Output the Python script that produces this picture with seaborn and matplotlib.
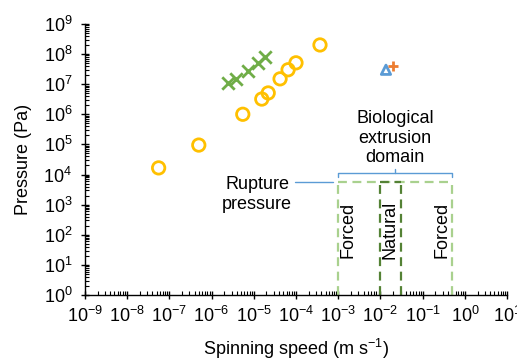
#!/usr/bin/env python3

import numpy as np
import matplotlib
matplotlib.use("Agg")
import matplotlib.pyplot as plt
import seaborn as sns
from matplotlib.ticker import LogLocator, NullFormatter

# --- data ---
circle_speed = [5.6e-8, 5.0e-7, 5.5e-6, 1.55e-5, 2.2e-5, 4.2e-5, 6.5e-5, 1.0e-4, 3.7e-4]
circle_pressure = [1.66e4, 9.5e4, 1.0e6, 3.2e6, 5.1e6, 1.5e7, 3.0e7, 5.1e7, 2.0e8]

cross_speed = [2.45e-6, 3.8e-6, 7.2e-6, 1.25e-5, 1.85e-5]
cross_pressure = [1.1e7, 1.5e7, 2.75e7, 5.1e7, 8.1e7]

tri_speed = [1.35e-2]
tri_pressure = [3.0e7]
plus_speed = [2.0e-2]
plus_pressure = [4.1e7]

forced_range = [1e-3, 0.5]
natural_range = [1e-2, 0.031]
rupture_pressure = 5.6e3

region_labels = ["Forced", "Natural", "Forced"]
region_label_x = [1.7e-3, 1.7e-2, 0.29]

# --- style ---
sns.set_style("ticks")
plt.rcParams['font.family'] = ['Liberation Sans', 'DejaVu Sans']
plt.rcParams['mathtext.fontset'] = 'custom'
plt.rcParams['mathtext.rm'] = 'Liberation Sans'
plt.rcParams['text.color'] = 'black'
plt.rcParams['axes.labelcolor'] = 'black'
plt.rcParams['xtick.color'] = 'black'
plt.rcParams['ytick.color'] = 'black'

fig = plt.figure(figsize=(5.17, 3.62), dpi=100)
ax = fig.add_axes([0.164, 0.185, 0.817, 0.749])

gold = "#FFC000"
green = "#70AD47"
blue = "#5B9BD5"
orange = "#ED7D31"
light_green = "#A9D18E"
dark_green = "#548235"

sns.scatterplot(x=circle_speed, y=circle_pressure, marker='o', s=80, ax=ax, zorder=3)
pts = ax.collections[-1]
pts.set_facecolor('none')
pts.set_edgecolor(gold)
pts.set_linewidth(2.0)

sns.scatterplot(x=cross_speed, y=cross_pressure, marker='x', s=80, color=green,
                linewidth=2.0, ax=ax, zorder=3)
sns.scatterplot(x=tri_speed, y=tri_pressure, marker='^', s=45, ax=ax, zorder=3)
pts = ax.collections[-1]
pts.set_facecolor('none')
pts.set_edgecolor(blue)
pts.set_linewidth(2.0)
sns.scatterplot(x=plus_speed, y=plus_pressure, marker='+', s=60, color=orange,
                linewidth=2.0, ax=ax, zorder=3)

# dashed domain boxes
def draw_box(xr, top, color):
    ax.plot([xr[0], xr[0]], [1, top], ls=(0, (4, 2.5)), color=color, lw=1.6, zorder=2)
    ax.plot([xr[1], xr[1]], [1, top], ls=(0, (4, 2.5)), color=color, lw=1.6, zorder=2)
    ax.plot([xr[0], xr[1]], [top, top], ls=(0, (4, 2.5)), color=color, lw=1.6, zorder=2)

draw_box(forced_range, rupture_pressure, light_green)
draw_box(natural_range, rupture_pressure, dark_green)

for lab, xpos in zip(region_labels, region_label_x):
    ax.text(xpos, 145, lab, rotation=90, ha='center', va='center', fontsize=13)

# brace for the biological extrusion domain
brace_y = 1.1e4
brace_end = 8.3e3
ax.plot([forced_range[0], forced_range[0], forced_range[1], forced_range[1]],
        [brace_end, brace_y, brace_y, brace_end], color=blue, lw=1.0)
ax.plot([0.022, 0.022], [brace_y, 1.5e4], color=blue, lw=1.0)
ax.text(0.022, 1.9e4, "Biological\nextrusion\ndomain", ha='center', va='bottom',
        fontsize=13, linespacing=1.2)

# rupture pressure label
ax.plot([9.6e-5, 7.6e-4], [rupture_pressure, rupture_pressure], color=blue, lw=1.0)
ax.text(1.2e-5, rupture_pressure * 1.6, "Rupture\npressure", ha='center', va='top',
        fontsize=13, linespacing=1.2)

# axes
ax.set_xscale('log')
ax.set_yscale('log')
ax.set_xlim(1e-9, 1e1)
ax.set_ylim(1, 1e9)
ax.xaxis.set_major_locator(LogLocator(base=10, numticks=20))
ax.yaxis.set_major_locator(LogLocator(base=10, numticks=20))
ax.xaxis.set_minor_locator(LogLocator(base=10, subs=np.arange(2, 10), numticks=200))
ax.yaxis.set_minor_locator(LogLocator(base=10, subs=np.arange(2, 10), numticks=200))
ax.xaxis.set_minor_formatter(NullFormatter())
ax.yaxis.set_minor_formatter(NullFormatter())
ax.tick_params(which='major', direction='inout', length=6, width=1.0, labelsize=13,
               color='black', labelcolor='black')
ax.tick_params(which='minor', direction='in', length=3, width=0.8, color='black')
ax.tick_params(axis='x', which='major', pad=5)
ax.tick_params(axis='y', which='major', pad=6)
for side in ['top', 'right']:
    ax.spines[side].set_visible(False)
for side in ['left', 'bottom']:
    ax.spines[side].set_color('black')
    ax.spines[side].set_linewidth(1.0)

ax.set_xlabel("Spinning speed (m s$^{-1}$)", fontsize=13, labelpad=8)
ax.set_ylabel("Pressure (Pa)", fontsize=13, labelpad=8)

fig.savefig("out.png", dpi=100)
